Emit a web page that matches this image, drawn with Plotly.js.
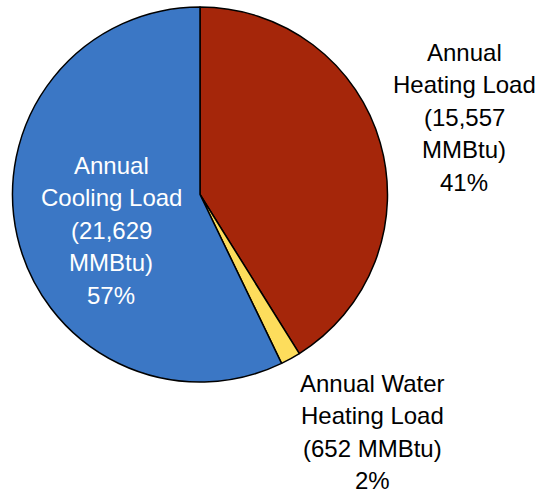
<!DOCTYPE html>
<html>
<head>
<meta charset="utf-8">
<script src="https://cdn.plot.ly/plotly-3.0.1.min.js"></script>
<style>html,body{margin:0;padding:0;background:#fff}#chart{width:539px;height:491px}</style>
</head>
<body>
<div id="chart"></div>
<script>
// Data
const categories = ["Annual<br>Heating Load", "Annual Water<br>Heating Load", "Annual<br>Cooling Load"];
const values = [15557, 652, 21629];
const unitSeparators = ["<br>", " ", "<br>"];
const sliceColors = ["#A5260A", "#FDDD5C", "#3B77C5"];

const W = 539, H = 491;
const total = values.reduce((a, b) => a + b, 0);

// label block positions (pixels): center x, first line center y, text colour
const labelPos = [
  {x: 464, y: 52, color: "#000000"},
  {x: 372, y: 383, color: "#000000"},
  {x: 111, y: 165, color: "#FFFFFF"}
];
const lineStep = 32.6;

const annotations = [];
categories.forEach((cat, i) => {
  const pct = Math.round(values[i] / total * 100);
  const text = cat + "<br>(" + values[i].toLocaleString("en-US") + unitSeparators[i] + "MMBtu)<br>" + pct + "%";
  text.split("<br>").forEach((line, j) => {
    annotations.push({
      xref: "paper", yref: "paper",
      x: labelPos[i].x / W,
      y: 1 - (labelPos[i].y + j * lineStep) / H,
      xanchor: "center", yanchor: "middle",
      text: line, showarrow: false,
      font: {family: "Liberation Sans, Arial, sans-serif", size: 24, color: labelPos[i].color}
    });
  });
});

const cx = 200, cy = 194.5, r = 187.5;
const trace = {
  type: "pie",
  labels: categories,
  values: values,
  sort: false,
  direction: "clockwise",
  rotation: 0,
  textinfo: "none",
  hoverinfo: "label+value+percent",
  marker: {colors: sliceColors, line: {color: "#000000", width: 1.5}},
  domain: {x: [(cx - r) / W, (cx + r) / W], y: [1 - (cy + r) / H, 1 - (cy - r) / H]}
};

const layout = {
  width: W, height: H,
  margin: {l: 0, r: 0, t: 0, b: 0},
  showlegend: false,
  paper_bgcolor: "#FFFFFF",
  annotations: annotations
};

Plotly.newPlot("chart", [trace], layout, {displayModeBar: false, staticPlot: true});
</script>
</body>
</html>
